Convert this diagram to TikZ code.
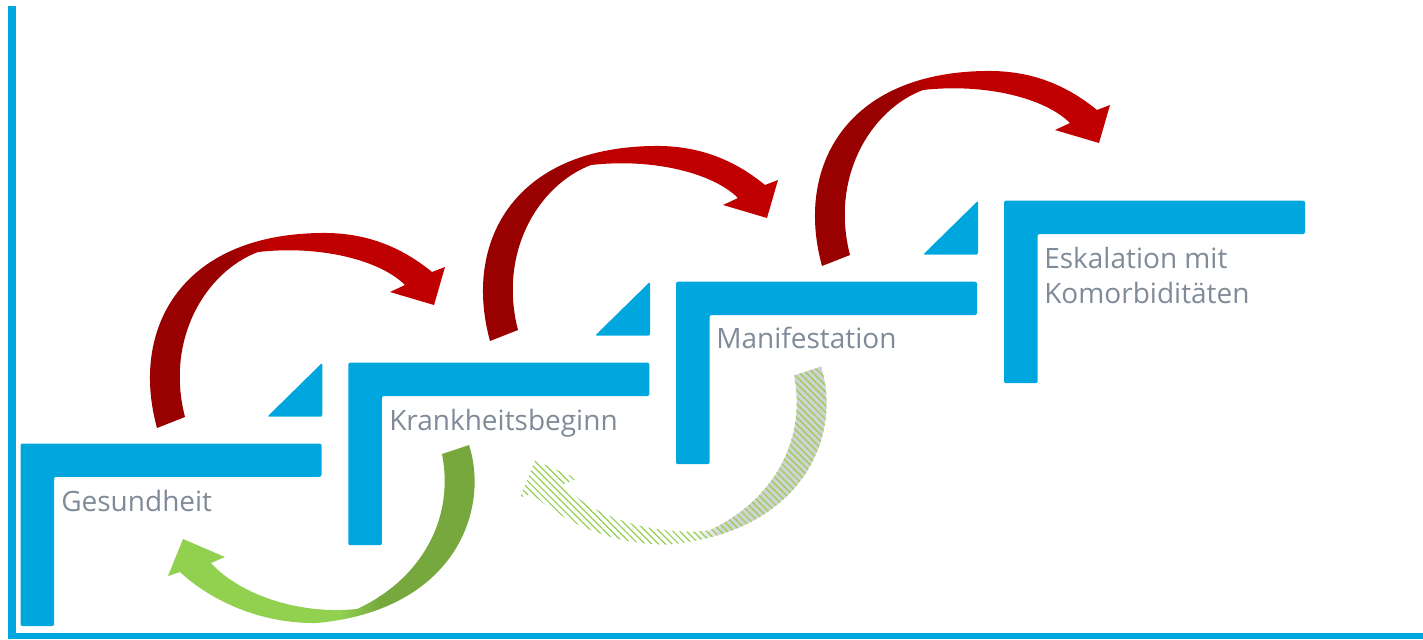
\documentclass[tikz,border=0pt]{standalone}
\usepackage{fontspec}
\setmainfont{Open Sans}
\usetikzlibrary{patterns.meta}
\definecolor{stepblue}{RGB}{0,167,222}
\definecolor{labelgray}{RGB}{127,139,152}
\definecolor{darkred}{RGB}{153,0,0}
\definecolor{brightred}{RGB}{192,0,0}
\definecolor{lightgreen}{RGB}{146,208,80}
\definecolor{olivegreen}{RGB}{118,168,62}
\definecolor{hatchgray}{RGB}{210,210,210}
% curved block arrows, in pixel units of the first one
\newcommand\redarc{(157,428) .. controls (130,330) and (180,235) .. (320,233)
  .. controls (370,232) and (405,250) .. (432,272) -- (445,267) -- (434,305)
  -- (390,292) -- (405,285) .. controls (380,260) and (320,245) .. (258,252)
  .. controls (205,272) and (165,340) .. (185,417) -- cycle}
\newcommand\greenarc{(469,445) .. controls (490,510) and (455,610) .. (317,623)
  .. controls (260,624) and (210,600) .. (180,572) -- (168,576) -- (183,539)
  -- (225,557) -- (211,563) .. controls (240,595) and (300,615) .. (357,609)
  .. controls (420,580) and (455,520) .. (442,454) -- cycle}
\tikzset{stepbar/.style={fill=stepblue,rounded corners=1.5pt},
  steplabel/.style={anchor=base west,inner sep=0pt,text=labelgray,
    font=\fontsize{21}{26.25}\selectfont}}
\begin{document}
\begin{tikzpicture}[x=0.75pt,y=-0.75pt]
	\useasboundingbox (0,0) rectangle (1423,639);
	% frame
	\fill[stepblue] (8,6) rectangle (16,638.5);
	\fill[stepblue] (8,632.5) rectangle (1423,638.5);
	% stairs
	\foreach \x/\y [count=\i] in {20.5/443.5,348.3/362.7,676/281.7,1004/200.7}{
		\fill[stepbar] (\x,\y) -- ++(301,0) -- ++(0,33.3) -- ++(-267.4,0) -- ++(0,149.2) -- ++(-33.6,0) -- cycle;
		\ifnum\i>1 \fill[stepbar] (\x-81,\y+54) -- ++(55,0) -- ++(0,-54) -- cycle; \fi
	}
	\node[steplabel] (gesund) at (61,511.5) {Gesundheit};
	\node[steplabel] (krank) at (389,430.5) {Krankheitsbeginn};
	\node[steplabel] (manif) at (716,348) {Manifestation};
	\node[steplabel,align=left] (eskal) at (1044,303) {Eskalation mit\\Komorbiditäten};
	% red arrows up the stairs
	\foreach \dx/\dy in {0/0,333/-87,665/-162}{
		\begin{scope}[shift={(\dx,\dy)}]
			\clip \redarc;
			\fill[darkred] (140,220) rectangle (229,440);
			\shade[left color=darkred,right color=brightred] (228,220) rectangle (272,440);
			\fill[brightred] (271,220) rectangle (450,440);
		\end{scope}
	}
	% green arrows back down
	\begin{scope}
		\clip \greenarc;
		\fill[lightgreen] (160,440) rectangle (341,630);
		\shade[left color=lightgreen,right color=olivegreen] (340,440) rectangle (380,630);
		\fill[olivegreen] (379,440) rectangle (480,630);
	\end{scope}
	\begin{scope}[shift={(352,-78.5)}]
		\clip \greenarc;
		\shade[left color=white,right color=hatchgray] (340,440) rectangle (370,630);
		\fill[hatchgray] (369,440) rectangle (480,630);
		\fill[pattern={Lines[angle=-45,distance=3.6pt,line width=0.9pt]},pattern color=lightgreen] (160,440) rectangle (480,630);
	\end{scope}
\end{tikzpicture}
\end{document}
